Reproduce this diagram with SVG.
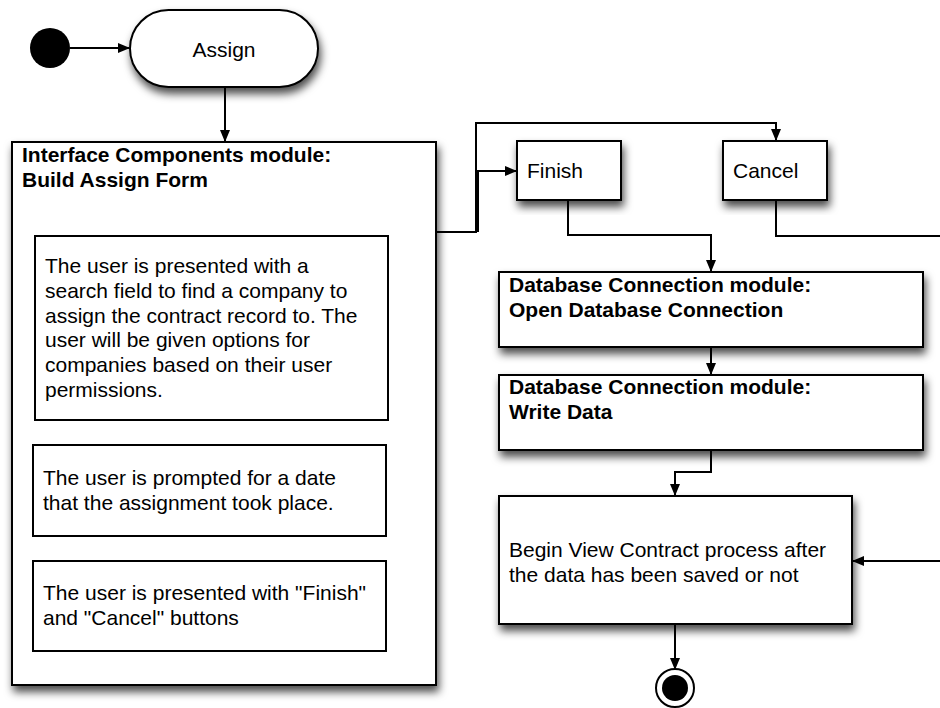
<svg xmlns="http://www.w3.org/2000/svg" width="940" height="708" viewBox="0 0 940 708">
<defs>
<filter id="sh" x="-10%" y="-10%" width="125%" height="135%">
<feDropShadow dx="2" dy="6" stdDeviation="4" flood-color="#000" flood-opacity="0.7"/>
</filter>
<marker id="ah" markerWidth="12" markerHeight="10" refX="11" refY="5" orient="auto" markerUnits="userSpaceOnUse">
<path d="M0,0 L12,5 L0,10 Z" fill="#000"/>
</marker>
</defs>
<style>
.box{fill:#fff;stroke:#000;stroke-width:2;filter:url(#sh)}
.inner{fill:#fff;stroke:#000;stroke-width:2}
.t{font-family:"Liberation Sans",Arial,sans-serif;font-size:21px;fill:#000}
.b{font-weight:bold}
.c{fill:none;stroke:#000;stroke-width:2;marker-end:url(#ah)}
.l{fill:none;stroke:#000;stroke-width:2}
</style>
<rect width="940" height="708" fill="#fff"/>

<g id="connectors">
<path class="c" d="M70,48 H129"/>
<path class="c" d="M225,87 V141"/>
<path class="c" d="M436,232 H476 V123 H776 V140"/>
<path class="c" d="M478,232 V171 H516"/>
<path class="c" d="M568,200 V235 H711 V271"/>
<path class="l" d="M776,200 V236 H940"/>
<path class="c" d="M711,347 V374"/>
<path class="c" d="M711,450 V472 H675 V495"/>
<path class="c" d="M940,561 H853"/>
<path class="c" d="M675,624 V669"/>
</g>

<g id="start"><circle cx="50" cy="48" r="20" fill="#000"/></g>

<g id="assign">
<rect class="box" x="130" y="10" width="188" height="77" rx="38.5"/>
<text class="t" x="224" y="57" text-anchor="middle">Assign</text>
</g>

<g id="interface">
<rect class="box" x="12" y="142" width="424" height="543"/>
<text class="t b" x="22" y="162">Interface Components module:</text>
<text class="t b" x="22" y="187">Build Assign Form</text>
</g>

<g id="search">
<rect class="inner" x="35" y="236" width="353" height="184"/>
<text class="t" x="45" y="273">The user is presented with a</text>
<text class="t" x="45" y="298">search field to find a company to</text>
<text class="t" x="45" y="323">assign the contract record to. The</text>
<text class="t" x="45" y="347">user will be given options for</text>
<text class="t" x="45" y="372">companies based on their user</text>
<text class="t" x="45" y="397">permissions.</text>
</g>

<g id="date">
<rect class="inner" x="33" y="445" width="353" height="91"/>
<text class="t" x="43" y="485">The user is prompted for a date</text>
<text class="t" x="43" y="510">that the assignment took place.</text>
</g>

<g id="buttons">
<rect class="inner" x="33" y="561" width="353" height="90"/>
<text class="t" x="43" y="600">The user is presented with "Finish"</text>
<text class="t" x="43" y="625">and "Cancel" buttons</text>
</g>

<g id="finish">
<rect class="box" x="517" y="141" width="104" height="59"/>
<text class="t" x="527" y="178">Finish</text>
</g>

<g id="cancel">
<rect class="box" x="723" y="141" width="104" height="59"/>
<text class="t" x="733" y="178">Cancel</text>
</g>

<g id="open-db">
<rect class="box" x="499" y="272" width="424" height="75"/>
<text class="t b" x="509" y="292">Database Connection module:</text>
<text class="t b" x="509" y="317">Open Database Connection</text>
</g>

<g id="write-data">
<rect class="box" x="499" y="375" width="424" height="75"/>
<text class="t b" x="509" y="394">Database Connection module:</text>
<text class="t b" x="509" y="419">Write Data</text>
</g>

<g id="view-contract">
<rect class="box" x="499" y="496" width="353" height="128"/>
<text class="t" x="509" y="557">Begin View Contract process after</text>
<text class="t" x="509" y="582">the data has been saved or not</text>
</g>

<g id="end">
<circle cx="675" cy="688" r="19" fill="#fff" stroke="#000" stroke-width="2"/>
<circle cx="675" cy="688" r="13" fill="#000"/>
</g>
</svg>
